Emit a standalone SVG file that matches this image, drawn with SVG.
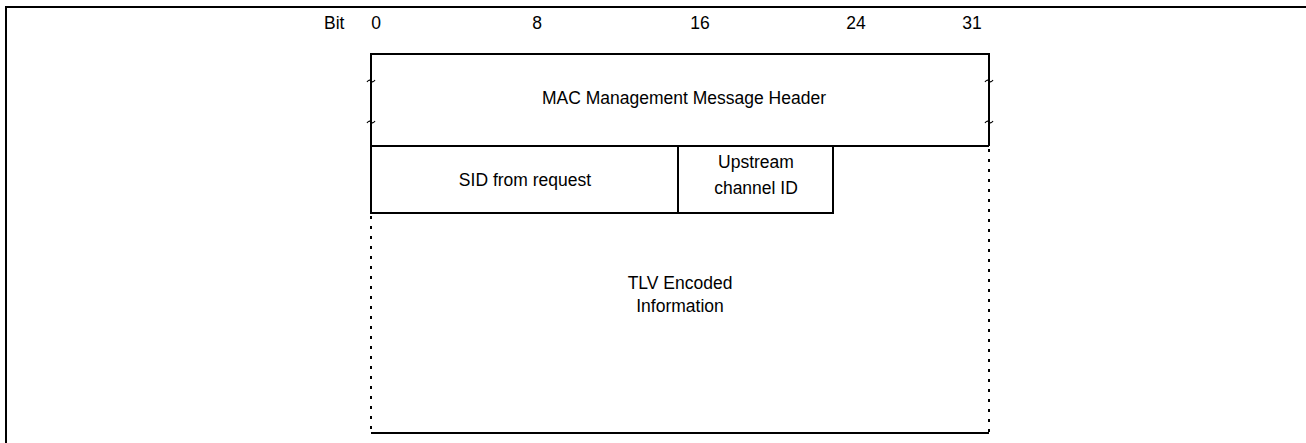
<svg xmlns="http://www.w3.org/2000/svg" width="1306" height="443" viewBox="0 0 1306 443">
<style>
text{font-family:"Liberation Sans",Arial,sans-serif;font-size:17.5px;fill:#000}
.m{text-anchor:middle}
.s{stroke:#000;stroke-width:2;fill:none}
.d{stroke:#000;stroke-width:2;fill:none;stroke-dasharray:3 7}
.t{stroke:#000;stroke-width:1.2;fill:none}
</style>
<rect width="1306" height="443" fill="#fff"/>
<g id="frame">
<path class="s" d="M6,443 V7 H1306"/>
</g>
<g id="bit-labels">
<text x="324" y="29">Bit</text>
<text x="376" y="29" class="m">0</text>
<text x="537" y="29" class="m">8</text>
<text x="700" y="29" class="m">16</text>
<text x="856" y="29" class="m">24</text>
<text x="972" y="29" class="m">31</text>
</g>
<g id="header">
<path class="s" d="M371,146 V54 H989 V146"/>
<path class="t" d="M367,82 q2,-3 4,-1 t4,-1 M367,123 q2,-3 4,-1 t4,-1 M985,82 q2,-3 4,-1 t4,-1 M985,123 q2,-3 4,-1 t4,-1"/>
<text x="684" y="104" class="m">MAC Management Message Header</text>
</g>
<g id="sid">
<rect class="s" x="371" y="146" width="307" height="67"/>
<text x="525" y="186" class="m">SID from request</text>
</g>
<g id="upstream">
<rect class="s" x="678" y="146" width="155" height="67"/>
<text x="756" y="168" class="m">Upstream</text>
<text x="756" y="194" class="m">channel ID</text>
</g>
<g id="tlv">
<path class="s" d="M371,146 H989"/>
<path class="d" d="M371,216 V433"/>
<path class="d" d="M989,149 V433"/>
<path class="s" d="M371,433 H989"/>
<text x="680" y="289" class="m">TLV Encoded</text>
<text x="680" y="312" class="m">Information</text>
</g>
</svg>
